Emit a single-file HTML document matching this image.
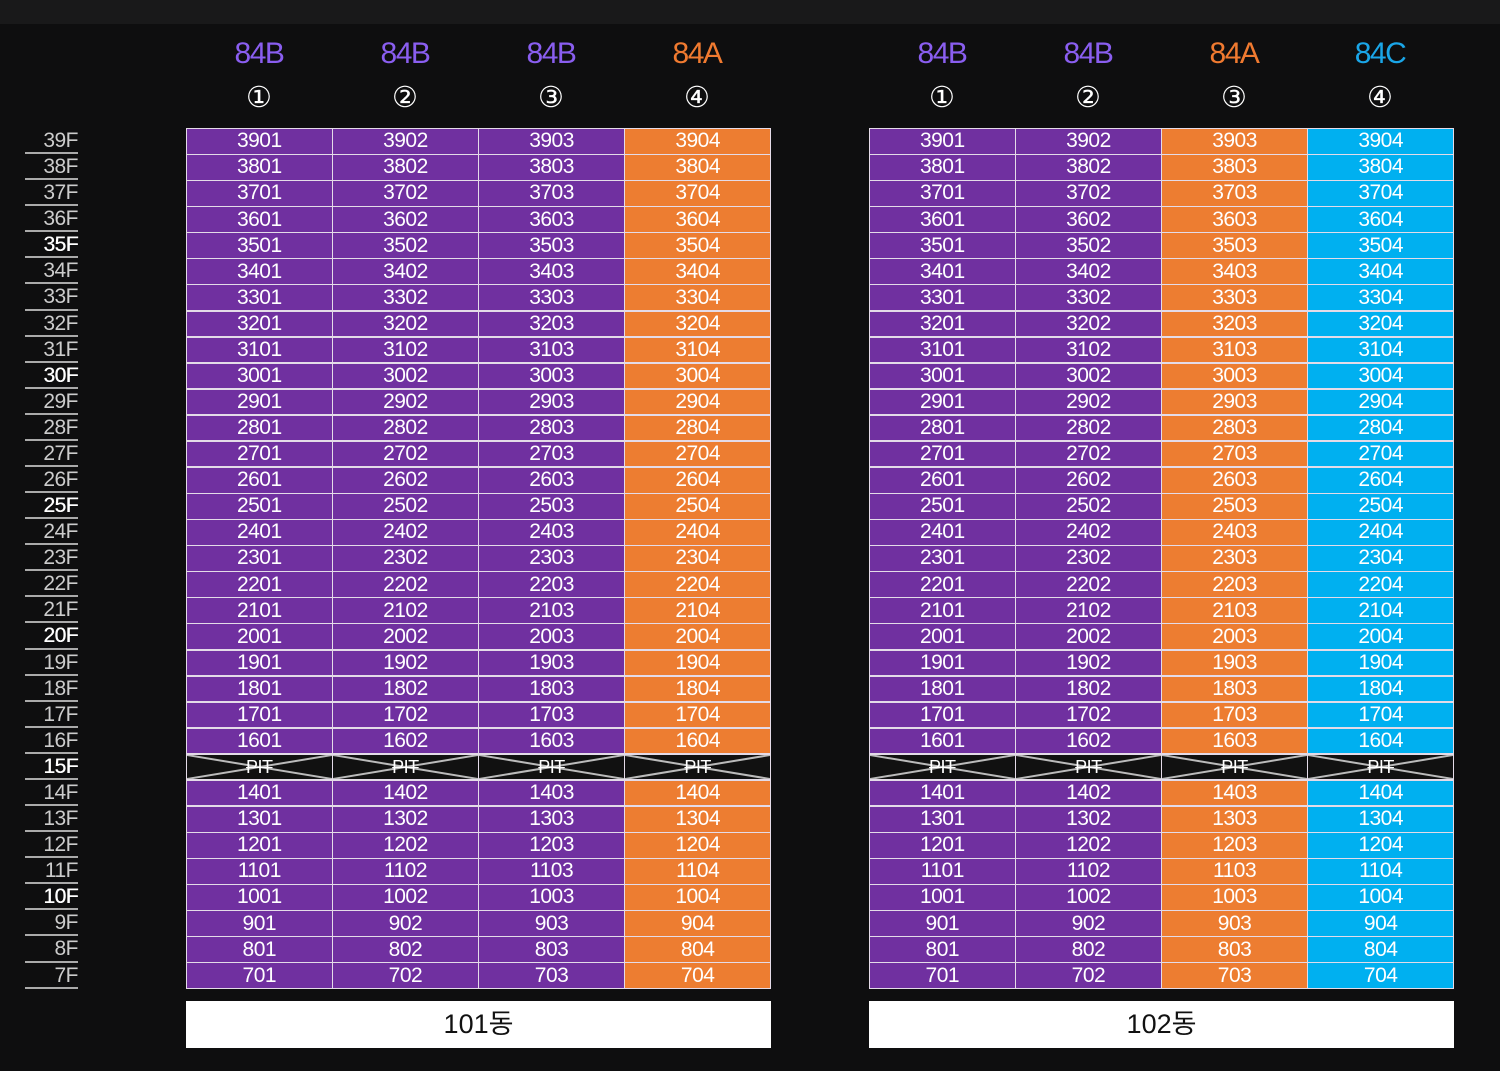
<!DOCTYPE html>
<html><head><meta charset="utf-8"><style>
*{margin:0;padding:0;box-sizing:border-box}
body{width:1500px;height:1071px;background:#0e0e0f;position:relative;overflow:hidden;font-family:"Liberation Sans Narrow","Liberation Sans","Noto Sans CJK KR",sans-serif}
.top{position:absolute;left:0;top:0;width:1500px;height:24px;background:#19191a}
.g{position:absolute;top:128px;width:585px;height:861px;display:grid;grid-template-columns:repeat(4,1fr);grid-template-rows:repeat(33,1fr);gap:1.5px;background:#e4dbe8;padding:1px}
.g div{display:flex;align-items:center;justify-content:center;color:#fff;font-size:21px;letter-spacing:-0.5px}
.p{background:#7030a0}.o{background:#ed7d31}.c{background:#00b0f0}
.x{background:#111 url("data:image/svg+xml,%3Csvg xmlns='http://www.w3.org/2000/svg' viewBox='0 0 100 100' preserveAspectRatio='none'%3E%3Cpath d='M0 0L100 100M0 100L100 0' stroke='%23bbb' stroke-width='2' vector-effect='non-scaling-stroke'/%3E%3C/svg%3E") center/100% 100% no-repeat;text-decoration:line-through;font-size:18px!important}
.fl{position:absolute;left:25px;top:128px;width:53px}
.fl div{height:26.09px;text-align:right;color:#ccc;font-size:21px;line-height:26px;border-bottom:2px solid #aaa;letter-spacing:-0.5px}
.fl div.b{color:#fff;font-weight:normal;text-shadow:0.4px 0 0 #fff}
.h{position:absolute;width:146px;text-align:center;font-size:30px;letter-spacing:-1.5px}
.n{position:absolute;width:146px;text-align:center;font-size:29px;color:#fff;font-family:"DejaVu Sans",sans-serif}
.bx{position:absolute;top:1001px;width:585px;height:47px;background:#fff;color:#111;font-size:27px;text-align:center;line-height:47px}
</style></head><body>
<div class="top"></div>
<div class="h" style="left:186px;top:37px;color:#8a5ef0">84B</div>
<div class="h" style="left:332px;top:37px;color:#8a5ef0">84B</div>
<div class="h" style="left:478px;top:37px;color:#8a5ef0">84B</div>
<div class="h" style="left:624px;top:37px;color:#f07a30">84A</div>
<div class="h" style="left:869px;top:37px;color:#8a5ef0">84B</div>
<div class="h" style="left:1015px;top:37px;color:#8a5ef0">84B</div>
<div class="h" style="left:1161px;top:37px;color:#f07a30">84A</div>
<div class="h" style="left:1307px;top:37px;color:#1aa6e8">84C</div>
<div class="n" style="left:186px;top:80px">①</div>
<div class="n" style="left:332px;top:80px">②</div>
<div class="n" style="left:478px;top:80px">③</div>
<div class="n" style="left:624px;top:80px">④</div>
<div class="n" style="left:869px;top:80px">①</div>
<div class="n" style="left:1015px;top:80px">②</div>
<div class="n" style="left:1161px;top:80px">③</div>
<div class="n" style="left:1307px;top:80px">④</div>
<div class="fl">
<div>39F</div><div>38F</div><div>37F</div><div>36F</div><div class="b">35F</div><div>34F</div><div>33F</div><div>32F</div><div>31F</div><div class="b">30F</div><div>29F</div><div>28F</div><div>27F</div><div>26F</div><div class="b">25F</div><div>24F</div><div>23F</div><div>22F</div><div>21F</div><div class="b">20F</div><div>19F</div><div>18F</div><div>17F</div><div>16F</div><div class="b">15F</div><div>14F</div><div>13F</div><div>12F</div><div>11F</div><div class="b">10F</div><div>9F</div><div>8F</div><div>7F</div>
</div>
<div class="g" style="left:186px">
<div class="p">3901</div><div class="p">3902</div><div class="p">3903</div><div class="o">3904</div>
<div class="p">3801</div><div class="p">3802</div><div class="p">3803</div><div class="o">3804</div>
<div class="p">3701</div><div class="p">3702</div><div class="p">3703</div><div class="o">3704</div>
<div class="p">3601</div><div class="p">3602</div><div class="p">3603</div><div class="o">3604</div>
<div class="p">3501</div><div class="p">3502</div><div class="p">3503</div><div class="o">3504</div>
<div class="p">3401</div><div class="p">3402</div><div class="p">3403</div><div class="o">3404</div>
<div class="p">3301</div><div class="p">3302</div><div class="p">3303</div><div class="o">3304</div>
<div class="p">3201</div><div class="p">3202</div><div class="p">3203</div><div class="o">3204</div>
<div class="p">3101</div><div class="p">3102</div><div class="p">3103</div><div class="o">3104</div>
<div class="p">3001</div><div class="p">3002</div><div class="p">3003</div><div class="o">3004</div>
<div class="p">2901</div><div class="p">2902</div><div class="p">2903</div><div class="o">2904</div>
<div class="p">2801</div><div class="p">2802</div><div class="p">2803</div><div class="o">2804</div>
<div class="p">2701</div><div class="p">2702</div><div class="p">2703</div><div class="o">2704</div>
<div class="p">2601</div><div class="p">2602</div><div class="p">2603</div><div class="o">2604</div>
<div class="p">2501</div><div class="p">2502</div><div class="p">2503</div><div class="o">2504</div>
<div class="p">2401</div><div class="p">2402</div><div class="p">2403</div><div class="o">2404</div>
<div class="p">2301</div><div class="p">2302</div><div class="p">2303</div><div class="o">2304</div>
<div class="p">2201</div><div class="p">2202</div><div class="p">2203</div><div class="o">2204</div>
<div class="p">2101</div><div class="p">2102</div><div class="p">2103</div><div class="o">2104</div>
<div class="p">2001</div><div class="p">2002</div><div class="p">2003</div><div class="o">2004</div>
<div class="p">1901</div><div class="p">1902</div><div class="p">1903</div><div class="o">1904</div>
<div class="p">1801</div><div class="p">1802</div><div class="p">1803</div><div class="o">1804</div>
<div class="p">1701</div><div class="p">1702</div><div class="p">1703</div><div class="o">1704</div>
<div class="p">1601</div><div class="p">1602</div><div class="p">1603</div><div class="o">1604</div>
<div class="x">PIT</div><div class="x">PIT</div><div class="x">PIT</div><div class="x">PIT</div>
<div class="p">1401</div><div class="p">1402</div><div class="p">1403</div><div class="o">1404</div>
<div class="p">1301</div><div class="p">1302</div><div class="p">1303</div><div class="o">1304</div>
<div class="p">1201</div><div class="p">1202</div><div class="p">1203</div><div class="o">1204</div>
<div class="p">1101</div><div class="p">1102</div><div class="p">1103</div><div class="o">1104</div>
<div class="p">1001</div><div class="p">1002</div><div class="p">1003</div><div class="o">1004</div>
<div class="p">901</div><div class="p">902</div><div class="p">903</div><div class="o">904</div>
<div class="p">801</div><div class="p">802</div><div class="p">803</div><div class="o">804</div>
<div class="p">701</div><div class="p">702</div><div class="p">703</div><div class="o">704</div>
</div>
<div class="g" style="left:869px">
<div class="p">3901</div><div class="p">3902</div><div class="o">3903</div><div class="c">3904</div>
<div class="p">3801</div><div class="p">3802</div><div class="o">3803</div><div class="c">3804</div>
<div class="p">3701</div><div class="p">3702</div><div class="o">3703</div><div class="c">3704</div>
<div class="p">3601</div><div class="p">3602</div><div class="o">3603</div><div class="c">3604</div>
<div class="p">3501</div><div class="p">3502</div><div class="o">3503</div><div class="c">3504</div>
<div class="p">3401</div><div class="p">3402</div><div class="o">3403</div><div class="c">3404</div>
<div class="p">3301</div><div class="p">3302</div><div class="o">3303</div><div class="c">3304</div>
<div class="p">3201</div><div class="p">3202</div><div class="o">3203</div><div class="c">3204</div>
<div class="p">3101</div><div class="p">3102</div><div class="o">3103</div><div class="c">3104</div>
<div class="p">3001</div><div class="p">3002</div><div class="o">3003</div><div class="c">3004</div>
<div class="p">2901</div><div class="p">2902</div><div class="o">2903</div><div class="c">2904</div>
<div class="p">2801</div><div class="p">2802</div><div class="o">2803</div><div class="c">2804</div>
<div class="p">2701</div><div class="p">2702</div><div class="o">2703</div><div class="c">2704</div>
<div class="p">2601</div><div class="p">2602</div><div class="o">2603</div><div class="c">2604</div>
<div class="p">2501</div><div class="p">2502</div><div class="o">2503</div><div class="c">2504</div>
<div class="p">2401</div><div class="p">2402</div><div class="o">2403</div><div class="c">2404</div>
<div class="p">2301</div><div class="p">2302</div><div class="o">2303</div><div class="c">2304</div>
<div class="p">2201</div><div class="p">2202</div><div class="o">2203</div><div class="c">2204</div>
<div class="p">2101</div><div class="p">2102</div><div class="o">2103</div><div class="c">2104</div>
<div class="p">2001</div><div class="p">2002</div><div class="o">2003</div><div class="c">2004</div>
<div class="p">1901</div><div class="p">1902</div><div class="o">1903</div><div class="c">1904</div>
<div class="p">1801</div><div class="p">1802</div><div class="o">1803</div><div class="c">1804</div>
<div class="p">1701</div><div class="p">1702</div><div class="o">1703</div><div class="c">1704</div>
<div class="p">1601</div><div class="p">1602</div><div class="o">1603</div><div class="c">1604</div>
<div class="x">PIT</div><div class="x">PIT</div><div class="x">PIT</div><div class="x">PIT</div>
<div class="p">1401</div><div class="p">1402</div><div class="o">1403</div><div class="c">1404</div>
<div class="p">1301</div><div class="p">1302</div><div class="o">1303</div><div class="c">1304</div>
<div class="p">1201</div><div class="p">1202</div><div class="o">1203</div><div class="c">1204</div>
<div class="p">1101</div><div class="p">1102</div><div class="o">1103</div><div class="c">1104</div>
<div class="p">1001</div><div class="p">1002</div><div class="o">1003</div><div class="c">1004</div>
<div class="p">901</div><div class="p">902</div><div class="o">903</div><div class="c">904</div>
<div class="p">801</div><div class="p">802</div><div class="o">803</div><div class="c">804</div>
<div class="p">701</div><div class="p">702</div><div class="o">703</div><div class="c">704</div>
</div>
<div class="bx" style="left:186px">101동</div>
<div class="bx" style="left:869px">102동</div>
</body></html>
